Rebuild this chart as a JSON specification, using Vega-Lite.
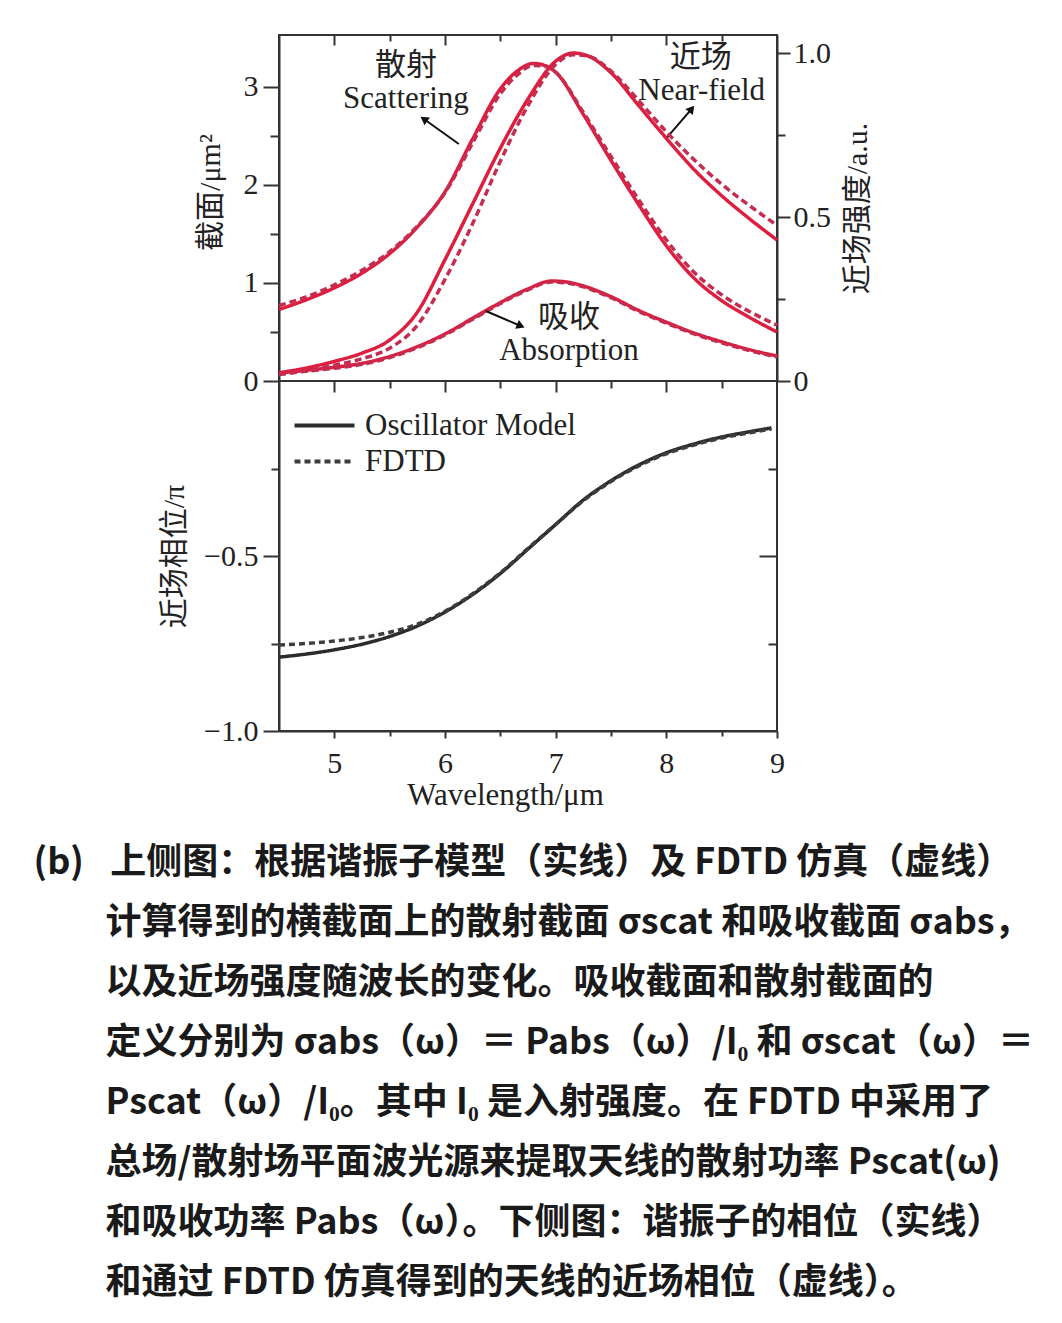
{
  "$schema": "https://vega.github.io/schema/vega-lite/v6.json",
  "background": "white",
  "padding": {"left": 33, "top": 33, "right": 4, "bottom": 4},
  "bounds": "flush",
  "spacing": 0,
  "datasets": {
    "cs": [
      {"curve": "scat", "method": "Oscillator Model", "w": 4.5, "value": 0.73},
      {"curve": "scat", "method": "Oscillator Model", "w": 4.75, "value": 0.83},
      {"curve": "scat", "method": "Oscillator Model", "w": 5.0, "value": 0.95},
      {"curve": "scat", "method": "Oscillator Model", "w": 5.25, "value": 1.10},
      {"curve": "scat", "method": "Oscillator Model", "w": 5.5, "value": 1.30},
      {"curve": "scat", "method": "Oscillator Model", "w": 5.75, "value": 1.57},
      {"curve": "scat", "method": "Oscillator Model", "w": 6.0, "value": 1.93},
      {"curve": "scat", "method": "Oscillator Model", "w": 6.25, "value": 2.47},
      {"curve": "scat", "method": "Oscillator Model", "w": 6.5, "value": 2.98},
      {"curve": "scat", "method": "Oscillator Model", "w": 6.65, "value": 3.16},
      {"curve": "scat", "method": "Oscillator Model", "w": 6.8, "value": 3.24},
      {"curve": "scat", "method": "Oscillator Model", "w": 6.9, "value": 3.22},
      {"curve": "scat", "method": "Oscillator Model", "w": 7.0, "value": 3.15},
      {"curve": "scat", "method": "Oscillator Model", "w": 7.25, "value": 2.72},
      {"curve": "scat", "method": "Oscillator Model", "w": 7.5, "value": 2.25},
      {"curve": "scat", "method": "Oscillator Model", "w": 7.75, "value": 1.80},
      {"curve": "scat", "method": "Oscillator Model", "w": 8.0, "value": 1.38},
      {"curve": "scat", "method": "Oscillator Model", "w": 8.25, "value": 1.05},
      {"curve": "scat", "method": "Oscillator Model", "w": 8.5, "value": 0.82},
      {"curve": "scat", "method": "Oscillator Model", "w": 8.75, "value": 0.65},
      {"curve": "scat", "method": "Oscillator Model", "w": 9.0, "value": 0.50},
      {"curve": "scat", "method": "FDTD", "w": 4.5, "value": 0.77},
      {"curve": "scat", "method": "FDTD", "w": 4.75, "value": 0.86},
      {"curve": "scat", "method": "FDTD", "w": 5.0, "value": 0.98},
      {"curve": "scat", "method": "FDTD", "w": 5.25, "value": 1.13},
      {"curve": "scat", "method": "FDTD", "w": 5.5, "value": 1.32},
      {"curve": "scat", "method": "FDTD", "w": 5.75, "value": 1.58},
      {"curve": "scat", "method": "FDTD", "w": 6.0, "value": 1.92},
      {"curve": "scat", "method": "FDTD", "w": 6.25, "value": 2.43},
      {"curve": "scat", "method": "FDTD", "w": 6.5, "value": 2.93},
      {"curve": "scat", "method": "FDTD", "w": 6.65, "value": 3.12},
      {"curve": "scat", "method": "FDTD", "w": 6.8, "value": 3.22},
      {"curve": "scat", "method": "FDTD", "w": 6.9, "value": 3.21},
      {"curve": "scat", "method": "FDTD", "w": 7.0, "value": 3.15},
      {"curve": "scat", "method": "FDTD", "w": 7.25, "value": 2.74},
      {"curve": "scat", "method": "FDTD", "w": 7.5, "value": 2.29},
      {"curve": "scat", "method": "FDTD", "w": 7.75, "value": 1.85},
      {"curve": "scat", "method": "FDTD", "w": 8.0, "value": 1.44},
      {"curve": "scat", "method": "FDTD", "w": 8.25, "value": 1.11},
      {"curve": "scat", "method": "FDTD", "w": 8.5, "value": 0.88},
      {"curve": "scat", "method": "FDTD", "w": 8.75, "value": 0.71},
      {"curve": "scat", "method": "FDTD", "w": 9.0, "value": 0.57},
      {"curve": "abs", "method": "Oscillator Model", "w": 4.5, "value": 0.08},
      {"curve": "abs", "method": "Oscillator Model", "w": 4.75, "value": 0.11},
      {"curve": "abs", "method": "Oscillator Model", "w": 5.0, "value": 0.14},
      {"curve": "abs", "method": "Oscillator Model", "w": 5.25, "value": 0.18},
      {"curve": "abs", "method": "Oscillator Model", "w": 5.5, "value": 0.25},
      {"curve": "abs", "method": "Oscillator Model", "w": 5.75, "value": 0.35},
      {"curve": "abs", "method": "Oscillator Model", "w": 6.0, "value": 0.48},
      {"curve": "abs", "method": "Oscillator Model", "w": 6.25, "value": 0.64},
      {"curve": "abs", "method": "Oscillator Model", "w": 6.5, "value": 0.80},
      {"curve": "abs", "method": "Oscillator Model", "w": 6.75, "value": 0.94},
      {"curve": "abs", "method": "Oscillator Model", "w": 6.96, "value": 1.02},
      {"curve": "abs", "method": "Oscillator Model", "w": 7.1, "value": 1.01},
      {"curve": "abs", "method": "Oscillator Model", "w": 7.25, "value": 0.97},
      {"curve": "abs", "method": "Oscillator Model", "w": 7.5, "value": 0.86},
      {"curve": "abs", "method": "Oscillator Model", "w": 7.75, "value": 0.72},
      {"curve": "abs", "method": "Oscillator Model", "w": 8.0, "value": 0.60},
      {"curve": "abs", "method": "Oscillator Model", "w": 8.25, "value": 0.49},
      {"curve": "abs", "method": "Oscillator Model", "w": 8.5, "value": 0.40},
      {"curve": "abs", "method": "Oscillator Model", "w": 8.75, "value": 0.32},
      {"curve": "abs", "method": "Oscillator Model", "w": 9.0, "value": 0.255},
      {"curve": "abs", "method": "FDTD", "w": 4.5, "value": 0.07},
      {"curve": "abs", "method": "FDTD", "w": 4.75, "value": 0.10},
      {"curve": "abs", "method": "FDTD", "w": 5.0, "value": 0.13},
      {"curve": "abs", "method": "FDTD", "w": 5.25, "value": 0.17},
      {"curve": "abs", "method": "FDTD", "w": 5.5, "value": 0.24},
      {"curve": "abs", "method": "FDTD", "w": 5.75, "value": 0.34},
      {"curve": "abs", "method": "FDTD", "w": 6.0, "value": 0.47},
      {"curve": "abs", "method": "FDTD", "w": 6.25, "value": 0.63},
      {"curve": "abs", "method": "FDTD", "w": 6.5, "value": 0.79},
      {"curve": "abs", "method": "FDTD", "w": 6.75, "value": 0.93},
      {"curve": "abs", "method": "FDTD", "w": 6.96, "value": 1.01},
      {"curve": "abs", "method": "FDTD", "w": 7.1, "value": 1.00},
      {"curve": "abs", "method": "FDTD", "w": 7.25, "value": 0.96},
      {"curve": "abs", "method": "FDTD", "w": 7.5, "value": 0.85},
      {"curve": "abs", "method": "FDTD", "w": 7.75, "value": 0.71},
      {"curve": "abs", "method": "FDTD", "w": 8.0, "value": 0.59},
      {"curve": "abs", "method": "FDTD", "w": 8.25, "value": 0.48},
      {"curve": "abs", "method": "FDTD", "w": 8.5, "value": 0.39},
      {"curve": "abs", "method": "FDTD", "w": 8.75, "value": 0.31},
      {"curve": "abs", "method": "FDTD", "w": 9.0, "value": 0.245}
    ],
    "nf": [
      {"method": "Oscillator Model", "w": 4.5, "value": 0.025},
      {"method": "Oscillator Model", "w": 4.75, "value": 0.04},
      {"method": "Oscillator Model", "w": 5.0, "value": 0.06},
      {"method": "Oscillator Model", "w": 5.25, "value": 0.085},
      {"method": "Oscillator Model", "w": 5.5, "value": 0.125},
      {"method": "Oscillator Model", "w": 5.75, "value": 0.21},
      {"method": "Oscillator Model", "w": 6.0, "value": 0.37},
      {"method": "Oscillator Model", "w": 6.25, "value": 0.54},
      {"method": "Oscillator Model", "w": 6.5, "value": 0.71},
      {"method": "Oscillator Model", "w": 6.75, "value": 0.86},
      {"method": "Oscillator Model", "w": 7.0, "value": 0.975},
      {"method": "Oscillator Model", "w": 7.16, "value": 1.0},
      {"method": "Oscillator Model", "w": 7.3, "value": 0.99},
      {"method": "Oscillator Model", "w": 7.5, "value": 0.94},
      {"method": "Oscillator Model", "w": 7.75, "value": 0.84},
      {"method": "Oscillator Model", "w": 8.0, "value": 0.74},
      {"method": "Oscillator Model", "w": 8.25, "value": 0.645},
      {"method": "Oscillator Model", "w": 8.5, "value": 0.565},
      {"method": "Oscillator Model", "w": 8.75, "value": 0.495},
      {"method": "Oscillator Model", "w": 9.0, "value": 0.43},
      {"method": "FDTD", "w": 4.5, "value": 0.02},
      {"method": "FDTD", "w": 4.75, "value": 0.032},
      {"method": "FDTD", "w": 5.0, "value": 0.048},
      {"method": "FDTD", "w": 5.25, "value": 0.068},
      {"method": "FDTD", "w": 5.5, "value": 0.10},
      {"method": "FDTD", "w": 5.75, "value": 0.17},
      {"method": "FDTD", "w": 6.0, "value": 0.31},
      {"method": "FDTD", "w": 6.25, "value": 0.48},
      {"method": "FDTD", "w": 6.5, "value": 0.67},
      {"method": "FDTD", "w": 6.75, "value": 0.84},
      {"method": "FDTD", "w": 7.0, "value": 0.965},
      {"method": "FDTD", "w": 7.16, "value": 0.995},
      {"method": "FDTD", "w": 7.3, "value": 0.99},
      {"method": "FDTD", "w": 7.5, "value": 0.945},
      {"method": "FDTD", "w": 7.75, "value": 0.855},
      {"method": "FDTD", "w": 8.0, "value": 0.76},
      {"method": "FDTD", "w": 8.25, "value": 0.675},
      {"method": "FDTD", "w": 8.5, "value": 0.60},
      {"method": "FDTD", "w": 8.75, "value": 0.535},
      {"method": "FDTD", "w": 9.0, "value": 0.475}
    ],
    "phase": [
      {"method": "Oscillator Model", "w": 4.5, "value": -0.789},
      {"method": "Oscillator Model", "w": 4.75, "value": -0.78},
      {"method": "Oscillator Model", "w": 5.0, "value": -0.768},
      {"method": "Oscillator Model", "w": 5.25, "value": -0.752},
      {"method": "Oscillator Model", "w": 5.5, "value": -0.73},
      {"method": "Oscillator Model", "w": 5.75, "value": -0.70},
      {"method": "Oscillator Model", "w": 6.0, "value": -0.66},
      {"method": "Oscillator Model", "w": 6.25, "value": -0.61},
      {"method": "Oscillator Model", "w": 6.5, "value": -0.55},
      {"method": "Oscillator Model", "w": 6.75, "value": -0.48},
      {"method": "Oscillator Model", "w": 7.0, "value": -0.41},
      {"method": "Oscillator Model", "w": 7.25, "value": -0.34},
      {"method": "Oscillator Model", "w": 7.5, "value": -0.285},
      {"method": "Oscillator Model", "w": 7.75, "value": -0.24},
      {"method": "Oscillator Model", "w": 8.0, "value": -0.205},
      {"method": "Oscillator Model", "w": 8.25, "value": -0.18},
      {"method": "Oscillator Model", "w": 8.5, "value": -0.16},
      {"method": "Oscillator Model", "w": 8.75, "value": -0.145},
      {"method": "Oscillator Model", "w": 8.95, "value": -0.134},
      {"method": "FDTD", "w": 4.5, "value": -0.754},
      {"method": "FDTD", "w": 4.75, "value": -0.75},
      {"method": "FDTD", "w": 5.0, "value": -0.743},
      {"method": "FDTD", "w": 5.25, "value": -0.733},
      {"method": "FDTD", "w": 5.5, "value": -0.718},
      {"method": "FDTD", "w": 5.75, "value": -0.695},
      {"method": "FDTD", "w": 6.0, "value": -0.658},
      {"method": "FDTD", "w": 6.25, "value": -0.608},
      {"method": "FDTD", "w": 6.5, "value": -0.548},
      {"method": "FDTD", "w": 6.75, "value": -0.478},
      {"method": "FDTD", "w": 7.0, "value": -0.41},
      {"method": "FDTD", "w": 7.25, "value": -0.342},
      {"method": "FDTD", "w": 7.5, "value": -0.287},
      {"method": "FDTD", "w": 7.75, "value": -0.243},
      {"method": "FDTD", "w": 8.0, "value": -0.208},
      {"method": "FDTD", "w": 8.25, "value": -0.183},
      {"method": "FDTD", "w": 8.5, "value": -0.163},
      {"method": "FDTD", "w": 8.75, "value": -0.148},
      {"method": "FDTD", "w": 8.95, "value": -0.137}
    ],
    "labels": [
      {"script": "cjk", "label": "散射", "w": 5.647, "value": 3.214},
      {"script": "latin", "label": "Scattering", "w": 5.647, "value": 2.88},
      {"script": "cjk", "label": "近场", "w": 8.31, "value": 3.30},
      {"script": "latin", "label": "Near-field", "w": 8.32, "value": 2.96},
      {"script": "cjk", "label": "吸收", "w": 7.12, "value": 0.643},
      {"script": "latin", "label": "Absorption", "w": 7.12, "value": 0.306}
    ],
    "arrows": [
      {"arrow": "scat", "w": 6.125, "value": 2.418, "w2": 5.809, "value2": 2.673},
      {"arrow": "near", "w": 8.003, "value": 2.48, "w2": 8.229, "value2": 2.776},
      {"arrow": "abs", "w": 6.369, "value": 0.714, "w2": 6.685, "value2": 0.561}
    ]
  },
  "vconcat": [
    {
      "width": 498,
      "height": 346,
      "layer": [
        {
          "layer": [
            {
              "data": {"name": "cs"},
              "mark": {"type": "line", "strokeWidth": 3.5, "interpolate": "monotone"},
              "encoding": {
                "x": {
                  "field": "w", "type": "quantitative",
                  "scale": {"domain": [4.5, 9], "nice": false, "zero": false},
                  "axis": {
                    "orient": "top", "values": [5, 5.5, 6, 6.5, 7, 7.5, 8, 8.5],
                    "labels": false, "title": null, "domain": false,
                    "tickSize": {"condition": {"test": "datum.value % 1 === 0", "value": -10}, "value": -6}
                  }
                },
                "y": {
                  "field": "value", "type": "quantitative",
                  "scale": {"domain": [0, 3.53], "nice": false, "zero": false},
                  "axis": {
                    "orient": "left", "values": [0, 0.5, 1, 1.5, 2, 2.5, 3],
                    "labelExpr": "datum.value % 1 === 0 ? format(datum.value, 'd') : ''",
                    "tickSize": {"condition": {"test": "datum.value % 1 === 0", "value": 16}, "value": 9},
                    "labelPadding": 5,
                    "title": "截面/μm²", "titlePadding": 18, "titleY": 157
                  }
                },
                "color": {"field": "method", "type": "nominal", "scale": {"domain": ["Oscillator Model", "FDTD"], "range": ["#dd1e3e", "#c42d52"]}, "legend": null},
                "strokeDash": {"field": "method", "type": "nominal", "scale": {"domain": ["Oscillator Model", "FDTD"], "range": [[1, 0], [7, 4]]}, "legend": null},
                "detail": {"field": "curve"}
              }
            },
            {
              "data": {"name": "labels"},
              "transform": [{"filter": "datum.script === 'cjk'"}],
              "mark": {"type": "text", "font": "Noto Sans CJK SC", "fontSize": 31, "color": "#222"},
              "encoding": {
                "x": {"field": "w", "type": "quantitative"},
                "y": {"field": "value", "type": "quantitative"},
                "text": {"field": "label"}
              }
            },
            {
              "data": {"name": "labels"},
              "transform": [{"filter": "datum.script === 'latin'"}],
              "mark": {"type": "text", "font": "Liberation Serif", "fontSize": 31, "color": "#222"},
              "encoding": {
                "x": {"field": "w", "type": "quantitative"},
                "y": {"field": "value", "type": "quantitative"},
                "text": {"field": "label"}
              }
            },
            {
              "data": {"name": "arrows"},
              "mark": {"type": "rule", "strokeWidth": 2, "color": "#111"},
              "encoding": {
                "x": {"field": "w", "type": "quantitative"},
                "y": {"field": "value", "type": "quantitative"},
                "x2": {"field": "w2"},
                "y2": {"field": "value2"}
              }
            },
            {
              "data": {"name": "arrows"},
              "transform": [{"filter": "datum.arrow === 'scat'"}],
              "mark": {"type": "point", "shape": "triangle-up", "filled": true, "size": 90, "angle": 305, "color": "#111", "opacity": 1},
              "encoding": {
                "x": {"field": "w2", "type": "quantitative"},
                "y": {"field": "value2", "type": "quantitative"}
              }
            },
            {
              "data": {"name": "arrows"},
              "transform": [{"filter": "datum.arrow === 'near'"}],
              "mark": {"type": "point", "shape": "triangle-up", "filled": true, "size": 90, "angle": 39, "color": "#111", "opacity": 1},
              "encoding": {
                "x": {"field": "w2", "type": "quantitative"},
                "y": {"field": "value2", "type": "quantitative"}
              }
            },
            {
              "data": {"name": "arrows"},
              "transform": [{"filter": "datum.arrow === 'abs'"}],
              "mark": {"type": "point", "shape": "triangle-up", "filled": true, "size": 90, "angle": 113, "color": "#111", "opacity": 1},
              "encoding": {
                "x": {"field": "w2", "type": "quantitative"},
                "y": {"field": "value2", "type": "quantitative"}
              }
            }
          ]
        },
        {
          "data": {"name": "nf"},
          "mark": {"type": "line", "strokeWidth": 3.5, "interpolate": "monotone"},
          "encoding": {
            "x": {"field": "w", "type": "quantitative"},
            "y": {
              "field": "value", "type": "quantitative",
              "scale": {"domain": [0, 1.055], "nice": false, "zero": false},
              "axis": {
                "orient": "right", "values": [0, 0.25, 0.5, 0.75, 1],
                "labelExpr": "datum.value === 0 ? '0' : datum.value === 0.5 ? '0.5' : datum.value === 1 ? '1.0' : ''",
                "tickSize": {"condition": {"test": "datum.value % 0.5 === 0", "value": 13}, "value": 8},
                "labelPadding": 3,
                "title": "近场强度/a.u.", "titleAngle": 270, "titleBaseline": "top", "titlePadding": 12
              }
            },
            "color": {"field": "method", "type": "nominal", "scale": {"domain": ["Oscillator Model", "FDTD"], "range": ["#dd1e3e", "#c42d52"]}, "legend": null},
            "strokeDash": {"field": "method", "type": "nominal", "scale": {"domain": ["Oscillator Model", "FDTD"], "range": [[1, 0], [7, 4]]}, "legend": null}
          }
        }
      ],
      "resolve": {"scale": {"y": "independent"}}
    },
    {
      "width": 498,
      "height": 350,
      "data": {"name": "phase"},
      "layer": [
        {
          "mark": {"type": "line", "strokeWidth": 3.5, "interpolate": "monotone"},
          "encoding": {
            "x": {
              "field": "w", "type": "quantitative",
              "scale": {"domain": [4.5, 9], "nice": false, "zero": false},
              "axis": {
                "orient": "bottom", "values": [5, 5.5, 6, 6.5, 7, 7.5, 8, 8.5, 9],
                "labelExpr": "datum.value % 1 === 0 ? format(datum.value, 'd') : ''",
                "tickSize": {"condition": {"test": "datum.value % 1 === 0", "value": 7}, "value": 5},
                "labelPadding": 10, "labelFlush": false,
                "title": "Wavelength/μm", "titleFont": "Liberation Serif", "titleFontSize": 31, "titlePadding": 2, "titleX": 226
              }
            },
            "y": {
              "field": "value", "type": "quantitative",
              "scale": {"domain": [-1, 0], "nice": false, "zero": false},
              "axis": {
                "orient": "left", "values": [-1, -0.75, -0.5, -0.25],
                "labelExpr": "(datum.value === -0.5 || datum.value === -1) ? format(datum.value, '.1f') : ''",
                "tickSize": {"condition": {"test": "datum.value % 0.5 === 0", "value": 16}, "value": 8},
                "labelPadding": 5,
                "title": "近场相位/π", "titlePadding": 14
              }
            },
            "color": {
              "field": "method", "type": "nominal",
              "scale": {"domain": ["Oscillator Model", "FDTD"], "range": ["#2b2b2b", "#3d3d3d"]},
              "legend": {"title": null, "orient": "none", "legendX": 30, "legendY": 29, "labelFont": "Liberation Serif", "labelFontSize": 31, "labelColor": "#222", "labelLimit": 400, "symbolType": "M-6,0H6", "symbolSize": 100, "symbolStrokeWidth": 4, "labelOffset": 25, "rowPadding": 4, "padding": 0}
            },
            "strokeDash": {
              "field": "method", "type": "nominal",
              "scale": {"domain": ["Oscillator Model", "FDTD"], "range": [[1, 0], [6, 4]]},
              "legend": {"title": null, "orient": "none", "legendX": 30, "legendY": 29, "labelFont": "Liberation Serif", "labelFontSize": 31, "labelColor": "#222", "labelLimit": 400, "symbolType": "M-6,0H6", "symbolSize": 100, "symbolStrokeWidth": 4, "labelOffset": 25, "rowPadding": 4, "padding": 0}
            }
          }
        },
        {
          "mark": {"type": "line", "strokeOpacity": 0},
          "encoding": {
            "x": {
              "field": "w", "type": "quantitative",
              "axis": {
                "orient": "top", "values": [5, 5.5, 6, 6.5, 7, 7.5, 8, 8.5],
                "labels": false, "title": null, "domain": false,
                "tickSize": {"condition": {"test": "datum.value % 1 === 0", "value": -11}, "value": -7}
              }
            },
            "y": {
              "field": "value", "type": "quantitative",
              "axis": {
                "orient": "right", "values": [-0.75, -0.5, -0.25],
                "labels": false, "title": null, "domain": false,
                "tickSize": {"condition": {"test": "datum.value % 0.5 === 0", "value": -18}, "value": -9}
              }
            },
            "detail": {"field": "method"}
          }
        }
      ],
      "resolve": {"axis": {"x": "independent", "y": "independent"}}
    }
  ],
  "resolve": {"scale": {"color": "independent", "strokeDash": "independent"}},
  "title": {
    "text": [
      "(b) \u2002上侧图：根据谐振子模型（实线）及 FDTD 仿真（虚线）",
      "\u200b\u3000\u3000计算得到的横截面上的散射截面 σscat 和吸收截面 σabs，",
      "\u200b\u3000\u3000以及近场强度随波长的变化。吸收截面和散射截面的",
      "\u200b\u3000\u3000定义分别为 σabs（ω）＝ Pabs（ω）/I₀ 和 σscat（ω）＝",
      "\u200b\u3000\u3000Pscat（ω）/I₀。其中 I₀ 是入射强度。在 FDTD 中采用了",
      "\u200b\u3000\u3000总场/散射场平面波光源来提取天线的散射功率 Pscat(ω)",
      "\u200b\u3000\u3000和吸收功率 Pabs（ω）。下侧图：谐振子的相位（实线）",
      "\u200b\u3000\u3000和通过 FDTD 仿真得到的天线的近场相位（虚线）。"
    ],
    "orient": "bottom",
    "anchor": "start",
    "frame": "bounds",
    "dx": -125,
    "offset": 35,
    "font": "Noto Sans CJK SC",
    "fontSize": 36,
    "fontWeight": "bold",
    "color": "#1a1a1a",
    "lineHeight": 60
  },
  "config": {
    "view": {"stroke": "#333", "strokeWidth": 2},
    "axis": {
      "grid": false,
      "domainColor": "#333", "domainWidth": 2,
      "tickColor": "#333", "tickWidth": 2,
      "labelColor": "#222", "labelFont": "Liberation Serif", "labelFontSize": 30,
      "labelOverlap": false,
      "titleColor": "#222", "titleFont": "Liberation Serif, Noto Sans CJK SC", "titleFontSize": 30, "titleFontWeight": "normal"
    }
  }
}
